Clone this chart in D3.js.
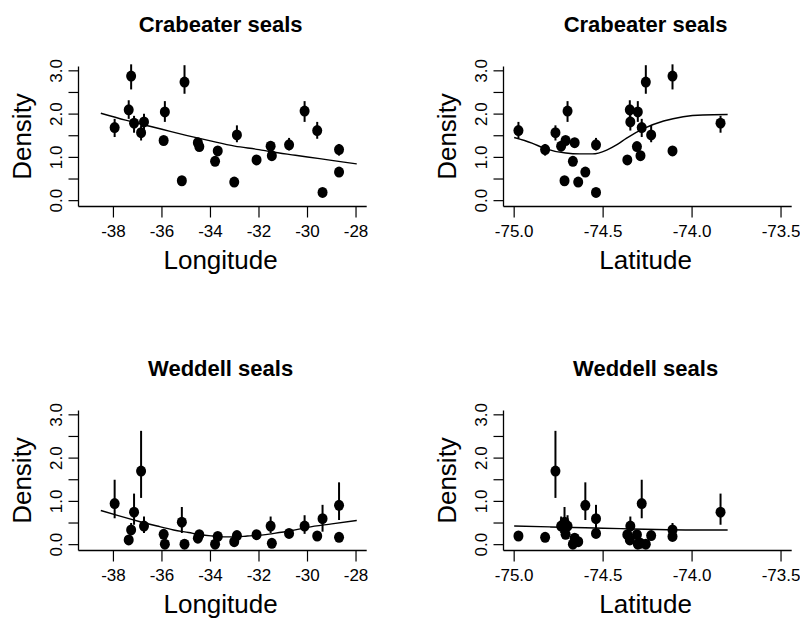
<!DOCTYPE html>
<html><head><meta charset="utf-8">
<script src="https://cdn.jsdelivr.net/npm/d3@7"></script>
<style>body{margin:0;background:#fff}svg{display:block}text{font-family:"Liberation Sans",Arial,sans-serif;fill:#000}</style>
</head><body><svg id="c" width="800" height="619"></svg>
<script>
// Station data (25 survey stations)
const lon = [-37.95,-37.37,-37.27,-37.15,-36.86,-36.74,-35.88,-35.93,-35.18,-35.07,-34.52,-34.46,-33.81,-33.70,-33.02,-32.91,-32.10,-31.52,-31.47,-30.76,-30.12,-29.60,-29.38,-28.70,-28.70];
const lat = [-74.283,-74.35,-74.11,-73.84,-74.768,-74.347,-74.305,-74.711,-74.717,-74.26,-74.66,-74.31,-74.67,-74.11,-74.64,-74.23,-74.364,-74.736,-74.29,-74.54,-74.70,-74.976,-74.54,-74.826,-74.60];
const crab   = [1.69,2.10,2.88,1.79,1.57,1.82,2.05,1.39,0.46,2.74,1.34,1.25,0.91,1.15,0.43,1.52,0.94,1.26,1.04,1.29,2.07,1.62,0.19,1.18,0.66];
const crabLo = [1.47,1.89,2.57,1.57,1.39,1.62,1.82,1.30,0.40,2.47,1.24,1.18,0.85,1.05,0.38,1.35,0.87,1.14,0.96,1.16,1.82,1.43,0.15,1.04,0.59];
const crabHi = [1.89,2.32,3.15,1.96,1.74,2.01,2.30,1.48,0.52,3.13,1.45,1.32,0.97,1.25,0.48,1.74,1.01,1.38,1.12,1.45,2.30,1.82,0.23,1.31,0.73];
const wed    = [0.95,0.11,0.34,0.75,1.70,0.43,0.01,0.24,0.52,0.01,0.15,0.23,0.01,0.19,0.07,0.21,0.23,0.43,0.03,0.26,0.43,0.20,0.60,0.17,0.91];
const wedLo  = [0.61,0.06,0.22,0.46,1.08,0.27,0.00,0.16,0.27,0.00,0.10,0.17,0.00,0.14,0.03,0.15,0.17,0.27,0.00,0.18,0.25,0.15,0.30,0.12,0.57];
const wedHi  = [1.50,0.16,0.50,1.18,2.63,0.65,0.03,0.32,0.87,0.03,0.20,0.29,0.03,0.24,0.11,0.27,0.29,0.65,0.06,0.36,0.68,0.25,0.92,0.22,1.44];

// Fitted curves
const fitCrabLonX = [-38.52,-37.5,-36.5,-36,-35,-34,-33,-32,-31.5,-30.5,-29.5,-28.5,-27.97];
const fitCrabLonY = [2.02,1.86,1.72,1.65,1.51,1.38,1.26,1.18,1.13,1.05,0.97,0.89,0.85];
const fitCrabLatX = [-75.0,-74.9,-74.83,-74.71,-74.63,-74.56,-74.48,-74.42,-74.37,-74.27,-74.16,-74.05,-73.94,-73.80];
const fitCrabLatY = [1.46,1.33,1.21,1.10,1.08,1.08,1.17,1.30,1.44,1.67,1.84,1.94,1.98,1.99];
const fitWedLonX = [-38.52,-37.8,-36.9,-36.2,-35.52,-34.9,-34.41,-33.9,-33.45,-32.9,-32.48,-31.9,-31.38,-30.7,-30.0,-29,-27.97];
const fitWedLonY = [0.79,0.67,0.53,0.43,0.34,0.28,0.23,0.20,0.18,0.18,0.20,0.22,0.26,0.32,0.40,0.48,0.56];
const fitWedLatX = [-75.0,-74.8,-74.6,-74.4,-74.2,-74.0,-73.8];
const fitWedLatY = [0.43,0.41,0.39,0.37,0.35,0.34,0.34];

const lonTicks = [-38,-36,-34,-32,-30,-28];
const latTicks = [-75.0,-74.5,-74.0,-73.5];
const yTicks = [0,0.5,1,1.5,2,2.5,3];
const yLabels = [0,1,2,3];
const titles = ["Crabeater seals","Crabeater seals","Weddell seals","Weddell seals"];
const xTitles = ["Longitude","Latitude","Longitude","Latitude"];

const svg = d3.select("#c");
const panels = [
  {col:0,row:0,x:lon,y:crab,lo:crabLo,hi:crabHi,fx:fitCrabLonX,fy:fitCrabLonY,dom:[-39.44,-27.56],ticks:lonTicks,fmt:d3.format("d")},
  {col:1,row:0,x:lat,y:crab,lo:crabLo,hi:crabHi,fx:fitCrabLatX,fy:fitCrabLatY,dom:[-75.06,-73.44],ticks:latTicks,fmt:d3.format(".1f")},
  {col:0,row:1,x:lon,y:wed,lo:wedLo,hi:wedHi,fx:fitWedLonX,fy:fitWedLonY,dom:[-39.44,-27.56],ticks:lonTicks,fmt:d3.format("d")},
  {col:1,row:1,x:lat,y:wed,lo:wedLo,hi:wedHi,fx:fitWedLatX,fy:fitWedLatY,dom:[-75.06,-73.44],ticks:latTicks,fmt:d3.format(".1f")}
];
const minus = s => s.replace("−","-");
panels.forEach((p,i)=>{
  const ox = p.col*425, oy = p.row*344;
  const L = 78.5+ox, R = 366.7+ox, T = 66.5+oy, B = 206.5+oy;
  const xs = d3.scaleLinear().domain(p.dom).range([L,R]);
  const ys = d3.scaleLinear().domain([-0.135,3.1]).range([B,T]);
  const g = svg.append("g");
  // axes lines (L-shaped box)
  g.append("line").attr("x1",L).attr("x2",L).attr("y1",T).attr("y2",B).attr("stroke","#000").attr("stroke-width",1.3);
  g.append("line").attr("x1",L).attr("x2",R).attr("y1",B).attr("y2",B).attr("stroke","#000").attr("stroke-width",1.3);
  // y ticks
  g.selectAll(".yt").data(yTicks).enter().append("line")
    .attr("x1",L).attr("x2",L-10).attr("y1",d=>ys(d)).attr("y2",d=>ys(d)).attr("stroke","#000").attr("stroke-width",1.2);
  g.selectAll(".yl").data(yLabels).enter().append("text")
    .attr("transform",d=>`translate(${L-16.5},${ys(d)}) rotate(-90)`)
    .attr("text-anchor","middle").attr("font-size",17).attr("fill","#222").text(d=>d3.format(".1f")(d));
  // x ticks
  g.selectAll(".xt").data(p.ticks).enter().append("line")
    .attr("x1",d=>xs(d)).attr("x2",d=>xs(d)).attr("y1",B).attr("y2",B+11).attr("stroke","#000").attr("stroke-width",1.2);
  g.selectAll(".xl").data(p.ticks).enter().append("text")
    .attr("x",d=>xs(d)).attr("y",B+30.5).attr("text-anchor","middle").attr("font-size",17).attr("fill","#222")
    .text(d=>minus(p.fmt(d)));
  // titles
  g.append("text").attr("x",(L+R)/2-2).attr("y",31.5+oy).attr("text-anchor","middle")
    .attr("font-size",22).attr("font-weight","bold").text(titles[i]);
  g.append("text").attr("x",(L+R)/2-2).attr("y",268.5+oy).attr("text-anchor","middle")
    .attr("font-size",26).text(xTitles[i]);
  g.append("text").attr("transform",`translate(${31+ox},${(T+B)/2}) rotate(-90)`).attr("text-anchor","middle")
    .attr("font-size",26).text("Density");
  // fit line
  const fit = p.fx.map((v,k)=>[v,p.fy[k]]);
  g.append("path").datum(fit).attr("fill","none").attr("stroke","#000").attr("stroke-width",1.4)
    .attr("d",d3.line().x(d=>xs(d[0])).y(d=>ys(d[1])).curve(d3.curveMonotoneX));
  // error bars & points
  const idx = d3.range(p.x.length);
  g.selectAll(".eb").data(idx).enter().append("line")
    .attr("x1",k=>xs(p.x[k])).attr("x2",k=>xs(p.x[k])).attr("y1",k=>ys(p.lo[k])).attr("y2",k=>ys(p.hi[k]))
    .attr("stroke","#000").attr("stroke-width",2);
  g.selectAll(".pt").data(idx).enter().append("ellipse")
    .attr("cx",k=>xs(p.x[k])).attr("cy",k=>ys(p.y[k])).attr("rx",5).attr("ry",5.5).attr("fill","#000");
});
</script></body></html>
